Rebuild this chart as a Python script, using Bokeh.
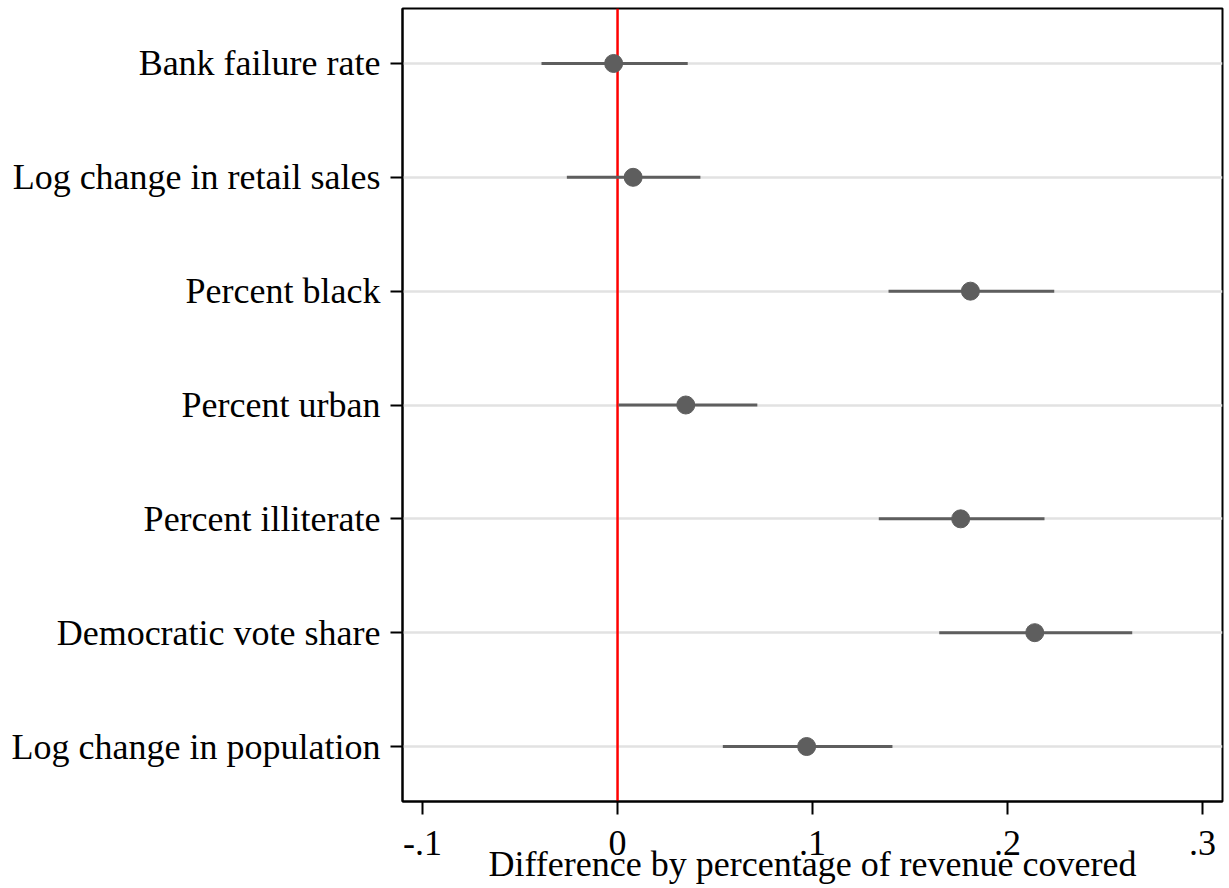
from bokeh.plotting import figure
from bokeh.models import Range1d, FixedTicker, Span
from bokeh.embed import file_html
from bokeh.resources import INLINE

categories = ["Bank failure rate", "Log change in retail sales", "Percent black",
              "Percent urban", "Percent illiterate", "Democratic vote share",
              "Log change in population"]
estimates = [-0.002, 0.008, 0.181, 0.035, 0.176, 0.214, 0.097]
ci_low = [-0.039, -0.026, 0.139, 0.0005, 0.134, 0.165, 0.054]
ci_high = [0.036, 0.0425, 0.224, 0.0717, 0.219, 0.264, 0.141]
x_ticks = [-0.1, 0, 0.1, 0.2, 0.3]
x_tick_labels = ["-.1", "0", ".1", ".2", ".3"]
x_title = "Difference by percentage of revenue covered"

ypos = list(range(1, len(categories) + 1))
FONT = "Liberation Serif"
FS = "36px"

p = figure(width=1224, height=888, output_backend="svg", toolbar_location=None,
           x_range=Range1d(-0.1103, 0.3103), y_range=Range1d(7.483, 0.517),
           min_border_left=402, min_border_right=2, min_border_top=8, min_border_bottom=87)

p.background_fill_color = "white"
p.border_fill_color = "white"
p.outline_line_color = "black"
p.outline_line_width = 2

p.xgrid.visible = False
p.ygrid.ticker = FixedTicker(ticks=ypos)
p.ygrid.grid_line_color = "#e2e2e2"
p.ygrid.grid_line_width = 2.5

zero = Span(location=0, dimension="height", line_color="red", line_width=2.5, level="underlay")
p.add_layout(zero)

p.segment(x0=ci_low, y0=ypos, x1=ci_high, y1=ypos, line_color="#5e5e5e", line_width=3)
p.scatter(x=estimates, y=ypos, size=18, fill_color="#5e5e5e", line_color="#5e5e5e")

yax = p.yaxis[0]
yax.ticker = FixedTicker(ticks=ypos)
yax.major_label_overrides = {y: c for y, c in zip(ypos, categories)}
yax.major_label_text_font = FONT
yax.major_label_text_font_size = FS
yax.major_label_text_color = "black"
yax.major_tick_out = 12
yax.major_tick_in = 0
yax.major_tick_line_width = 2
yax.minor_tick_line_color = None
yax.axis_line_width = 2
yax.major_label_standoff = 10

xax = p.xaxis[0]
xax.ticker = FixedTicker(ticks=x_ticks)
xax.major_label_overrides = {t: l for t, l in zip(x_ticks, x_tick_labels)}
xax.major_label_text_font = FONT
xax.major_label_text_font_size = FS
xax.major_label_text_color = "black"
xax.major_tick_out = 13
xax.major_tick_in = 0
xax.major_tick_line_width = 2
xax.minor_tick_line_color = None
xax.axis_line_width = 2
xax.major_label_standoff = 16
xax.axis_label = x_title
xax.axis_label_text_font = FONT
xax.axis_label_text_font_size = FS
xax.axis_label_text_font_style = "normal"
xax.axis_label_text_color = "black"
xax.axis_label_standoff = -14

open("out.html", "w").write(file_html(p, INLINE))
